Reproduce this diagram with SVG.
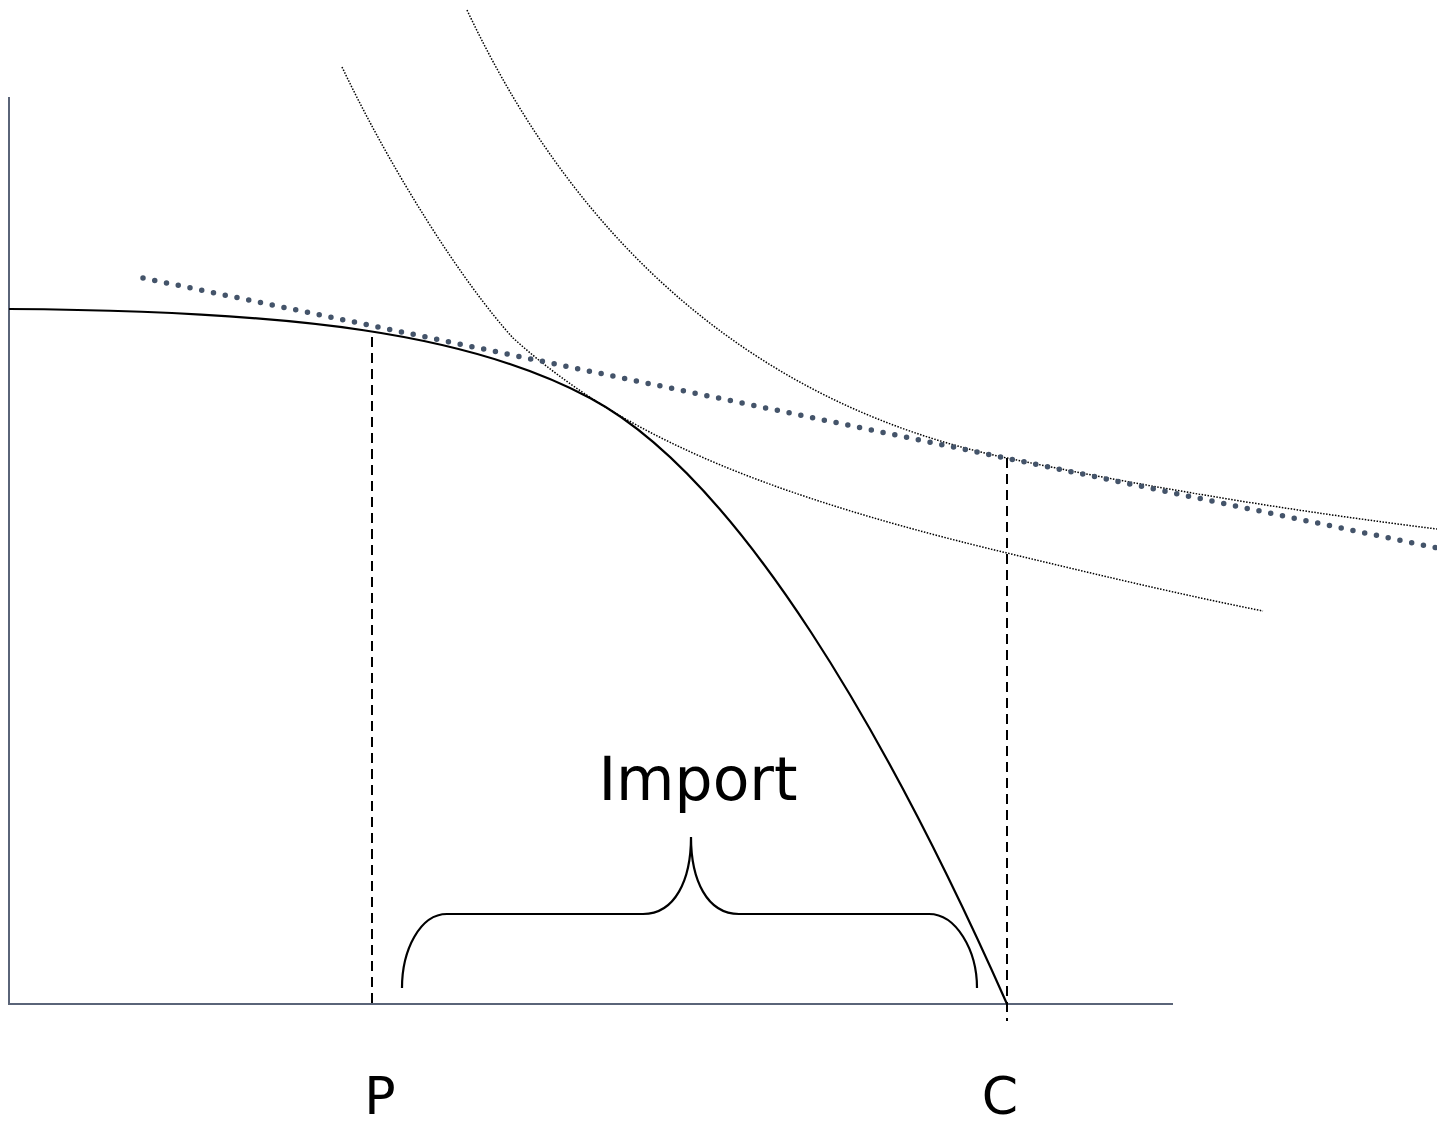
<svg xmlns="http://www.w3.org/2000/svg" width="1437" height="1124" viewBox="0 0 1437 1124">
<style>
.axis{stroke:#5a6478;stroke-width:2;fill:none}
.ppf{stroke:#000;stroke-width:2.2;fill:none}
.ic{stroke:#000;stroke-width:1.5;fill:none;stroke-dasharray:1.5 1.5}
.budget{stroke:#44546a;stroke-width:5.5;fill:none;stroke-dasharray:0 12;stroke-linecap:round}
.guide{stroke:#000;stroke-width:2;fill:none;stroke-dasharray:10 6}
.brace{stroke:#000;stroke-width:2.2;fill:none}
.lbl{font-family:"DejaVu Sans",Verdana,sans-serif;fill:#000}
</style>
<rect width="1437" height="1124" fill="#fff"/>
<g id="axes">
<line class="axis" x1="9" y1="97" x2="9" y2="1005"/>
<line class="axis" x1="8" y1="1004" x2="1173" y2="1004"/>
</g>
<g id="connectors">
<path id="ic1" class="ic" d="M342,67 C392,172 463,283 513,338 C565,385 622,420 682,448 C782,495 907,529 1007,553 C1092,573.4 1178,594 1263,611"/>
<path id="ic2" class="ic" d="M467,10 C580,250 760,406 1007,458 C1150,488 1300,512 1437,529"/>
<line id="guideP" class="guide" x1="372" y1="337" x2="372" y2="1004"/>
<line id="guideC" class="guide" x1="1007" y1="458" x2="1007" y2="1021"/>
<path id="ppf" class="ppf" d="M9,309 C300,311 470,334 590,398 C740,478 890,740 1007,1004"/>
<line id="budget" class="budget" x1="143" y1="278" x2="1437" y2="548"/>
</g>
<g id="brace">
<path class="brace" d="M402,988 C402,950 420,914 447,914 L643,914 C675,914 691,880 691,837 C691,880 707,914 739,914 L929,914 C956,914 977,950 977,988"/>
</g>
<g id="labels">
<text class="lbl" x="698" y="800" font-size="60" text-anchor="middle">Import</text>
<text class="lbl" x="380" y="1114" font-size="52" text-anchor="middle">P</text>
<text class="lbl" x="1000" y="1114" font-size="52" text-anchor="middle">C</text>
</g>
</svg>
